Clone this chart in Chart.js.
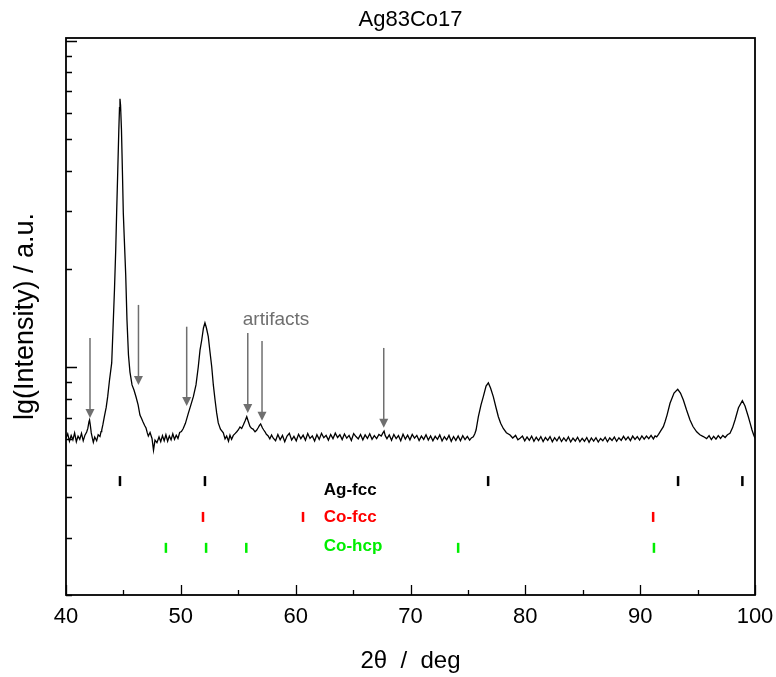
<!DOCTYPE html>
<html>
<head>
<meta charset="utf-8">
<script src="https://cdn.jsdelivr.net/npm/chart.js@4.4.1/dist/chart.umd.min.js"></script>
<style>
  body { margin: 0; background: #fff; }
  canvas { display: block; }
</style>
</head>
<body>
<canvas id="xrd" width="776" height="677"></canvas>
<script>
const twoTheta = [
  40.0, 40.15, 40.3, 40.45, 40.6, 40.75, 40.9, 41.05, 41.2, 41.35, 41.5, 41.65, 41.8, 41.9,
  42.0, 42.05, 42.12, 42.2, 42.3, 42.38, 42.5, 42.67, 42.8, 42.96, 43.05, 43.11, 43.22, 43.34,
  43.5, 43.63, 43.79, 43.98, 44.09, 44.22, 44.33, 44.41, 44.51, 44.6, 44.66, 44.7, 44.75, 44.83,
  44.92, 44.99, 45.08, 45.2, 45.31, 45.44, 45.57, 45.75, 45.92, 46.1, 46.28, 46.44, 46.58, 46.71,
  46.85, 46.97, 47.08, 47.17, 47.32, 47.49, 47.62, 47.75, 47.92, 48.1, 48.25, 48.4, 48.55, 48.7,
  48.85, 49.0, 49.15, 49.3, 49.45, 49.6, 49.75, 49.9, 50.05, 50.21, 50.4, 50.65, 50.85, 51.09,
  51.32, 51.52, 51.67, 51.82, 51.97, 52.1, 52.23, 52.39, 52.54, 52.69, 52.83, 52.98, 53.12, 53.26,
  53.45, 53.7, 53.85, 53.99, 54.15, 54.28, 54.42, 54.57, 54.72, 54.87, 55.0, 55.15, 55.3, 55.44,
  55.6, 55.74, 55.89, 56.02, 56.15, 56.29, 56.46, 56.6, 56.72, 56.85, 56.95, 57.11, 57.22, 57.33,
  57.45, 57.59, 57.75, 57.9, 58.05, 58.25, 58.45, 58.65, 58.85, 59.05, 59.25, 59.45, 59.65, 59.85,
  60.05, 60.25, 60.45, 60.65, 60.85, 61.05, 61.25, 61.45, 61.65, 61.85, 62.05, 62.25, 62.45, 62.65,
  62.85, 63.05, 63.25, 63.45, 63.65, 63.85, 64.05, 64.25, 64.45, 64.65, 64.85, 65.05, 65.25, 65.45,
  65.65, 65.85, 66.05, 66.25, 66.45, 66.65, 66.85, 67.05, 67.25, 67.45, 67.6, 67.7, 67.8, 67.95,
  68.15, 68.35, 68.55, 68.75, 68.95, 69.15, 69.35, 69.55, 69.75, 69.95, 70.15, 70.35, 70.55, 70.75,
  70.95, 71.15, 71.35, 71.55, 71.75, 71.95, 72.15, 72.35, 72.55, 72.75, 72.95, 73.15, 73.35, 73.55,
  73.75, 73.95, 74.15, 74.35, 74.55, 74.75, 74.95, 75.15, 75.3, 75.47, 75.6, 75.71, 75.91, 76.14,
  76.34, 76.58, 76.78, 76.97, 77.21, 77.45, 77.65, 77.85, 78.08, 78.35, 78.67, 78.9, 79.15, 79.35,
  79.54, 79.75, 79.95, 80.15, 80.35, 80.55, 80.75, 80.95, 81.15, 81.35, 81.55, 81.75, 81.95, 82.15,
  82.35, 82.55, 82.75, 82.95, 83.15, 83.35, 83.55, 83.75, 83.95, 84.15, 84.35, 84.55, 84.75, 84.95,
  85.15, 85.35, 85.55, 85.75, 85.95, 86.15, 86.35, 86.55, 86.75, 86.95, 87.15, 87.35, 87.55, 87.75,
  87.95, 88.15, 88.35, 88.55, 88.75, 88.95, 89.15, 89.35, 89.55, 89.75, 89.95, 90.15, 90.35, 90.55,
  90.75, 90.95, 91.15, 91.3, 91.44, 91.6, 91.8, 92.02, 92.18, 92.34, 92.6, 92.95, 93.27, 93.51,
  93.76, 94.04, 94.34, 94.6, 94.92, 95.2, 95.5, 95.79, 96.0, 96.2, 96.4, 96.6, 96.8, 97.0,
  97.2, 97.4, 97.6, 97.82, 98.05, 98.26, 98.56, 98.9, 99.13, 99.42, 99.6, 99.74, 99.88, 100.0
]
const intensity = [
  606, 624, 592, 617, 598, 628, 590, 614, 600, 626, 594, 618, 632, 648,
  680, 688, 662, 628, 604, 588, 610, 594, 620, 612, 634, 641, 668, 704,
  752, 811, 912, 1029, 1299, 1723, 2285, 2968, 4022, 5336, 6235, 6640, 6357, 5336,
  3879, 2968, 2453, 1915, 1394, 1088, 965, 881, 850, 809, 765, 712, 695, 678,
  662, 650, 628, 614, 630, 604, 556, 597, 586, 610, 590, 616, 594, 620,
  592, 614, 598, 624, 600, 618, 604, 630, 634, 648, 672, 721, 760, 811,
  881, 1002, 1127, 1210, 1317, 1365, 1317, 1239, 1112, 1002, 881, 792, 723, 674,
  645, 628, 602, 614, 592, 618, 600, 617, 625, 633, 641, 655, 648, 664,
  684, 704, 678, 657, 649, 645, 633, 640, 650, 662, 669, 650, 641, 633,
  622, 616, 602, 619, 605, 594, 621, 598, 617, 590, 614, 626, 597, 613,
  594, 622, 603, 618, 596, 625, 604, 615, 593, 620, 600, 626, 607, 617,
  597, 621, 603, 627, 608, 620, 599, 623, 605, 617, 595, 625, 612, 602,
  621, 598, 619, 604, 624, 600, 616, 603, 621, 614, 628, 636, 616, 603,
  619, 596, 621, 603, 616, 594, 622, 601, 618, 598, 621, 605, 617, 595,
  614, 600, 620, 597, 615, 594, 613, 600, 619, 593, 611, 598, 617, 592,
  612, 596, 615, 594, 616, 599, 613, 597, 606, 611, 624, 641, 704, 765,
  811, 874, 894, 862, 811, 750, 704, 672, 648, 629, 619, 606, 617, 598,
  605, 614, 594, 610, 596, 614, 592, 609, 595, 612, 591, 608, 596, 612,
  590, 607, 594, 611, 591, 606, 593, 610, 589, 605, 593, 609, 590, 604,
  592, 608, 588, 606, 593, 607, 589, 604, 594, 609, 590, 606, 595, 610,
  592, 607, 596, 613, 598, 611, 595, 614, 600, 612, 597, 615, 601, 614,
  603, 617, 602, 615, 611, 622, 638, 656, 682, 712, 774, 832, 854, 832,
  792, 738, 688, 657, 633, 620, 612, 603, 616, 599, 613, 601, 616, 604,
  617, 608, 620, 626, 652, 688, 750, 788, 759, 704, 668, 641, 620, 605
]

// reference reflection positions (deg)
const agFcc = [44.7, 52.1, 76.76, 93.3, 98.9]
const coFcc = [51.93, 60.64, 91.13]
const coHcp = [48.7, 52.2, 55.7, 74.15, 91.2]

// artifact arrows: position, tail and tip intensity
const arrowAt = [42.09, 46.31, 50.51, 55.83, 57.07, 67.67]
const arrowFrom = [1227, 1550, 1329, 1272, 1202, 1144]
const arrowTo = [698, 881, 759, 723, 684, 651]

const yMajor = [1000, 10000]
const yMinor = [200, 300, 400, 500, 600, 700, 800, 900, 2000, 3000, 4000, 5000, 6000, 7000, 8000, 9000]

const FONT = "'Liberation Sans', Arial, sans-serif"
const rows = [
  { label: "Ag-fcc", pos: agFcc, level: 447, textLevel: 420, color: "#000000" },
  { label: "Co-fcc", pos: coFcc, level: 347, textLevel: 347, color: "#ff0000" },
  { label: "Co-hcp", pos: coHcp, level: 279, textLevel: 283, color: "#00ee00" }
]

const decor = {
  id: "decor",
  afterDatasetsDraw(chart) {
    const { ctx, chartArea: a, scales: { x, y } } = chart
    ctx.save()

    // title, centred over the plot frame
    ctx.fillStyle = "#000"
    ctx.font = "22px " + FONT
    ctx.textAlign = "center"
    ctx.textBaseline = "middle"
    ctx.fillText("Ag83Co17", (a.left + a.right) / 2, 20)

    // inward ticks
    ctx.strokeStyle = "#000"
    ctx.lineWidth = 1.3
    ctx.beginPath()
    for (let v = 40; v <= 100; v += 5) {
      const px = Math.round(x.getPixelForValue(v)) + 0.5
      ctx.moveTo(px, a.bottom)
      ctx.lineTo(px, a.bottom - (v % 10 === 0 ? 10 : 5))
    }
    yMajor.forEach(v => {
      const py = Math.round(y.getPixelForValue(v)) + 0.5
      ctx.moveTo(a.left, py); ctx.lineTo(a.left + 11, py)
    })
    yMinor.forEach(v => {
      const py = Math.round(y.getPixelForValue(v)) + 0.5
      ctx.moveTo(a.left, py); ctx.lineTo(a.left + 6, py)
    })
    ctx.stroke()

    // frame
    ctx.lineWidth = 1.8
    ctx.strokeRect(a.left, a.top, a.right - a.left, a.bottom - a.top)

    // artifact arrows
    ctx.strokeStyle = "#6f6f6f"
    ctx.fillStyle = "#6f6f6f"
    ctx.lineWidth = 1.5
    arrowAt.forEach((v, i) => {
      const px = x.getPixelForValue(v)
      const y0 = y.getPixelForValue(arrowFrom[i])
      const y1 = y.getPixelForValue(arrowTo[i])
      ctx.beginPath()
      ctx.moveTo(px, y0); ctx.lineTo(px, y1 - 8)
      ctx.stroke()
      ctx.beginPath()
      ctx.moveTo(px - 4.5, y1 - 9); ctx.lineTo(px + 4.5, y1 - 9); ctx.lineTo(px, y1)
      ctx.closePath(); ctx.fill()
    })
    ctx.font = "19px " + FONT
    ctx.textBaseline = "alphabetic"
    ctx.fillText("artifacts", x.getPixelForValue(58.29), y.getPixelForValue(1345))

    // phase labels
    ctx.font = "bold 17px " + FONT
    ctx.textAlign = "left"
    ctx.textBaseline = "middle"
    rows.forEach(r => {
      ctx.fillStyle = r.color
      ctx.fillText(r.label, x.getPixelForValue(62.45), y.getPixelForValue(r.textLevel))
    })
    ctx.restore()
  }
}

const datasets = [{
  data: twoTheta.map((t, i) => ({ x: t, y: intensity[i] })),
  borderColor: "#000",
  borderWidth: 1.3,
  pointRadius: 0,
  tension: 0
}]
rows.forEach(r => datasets.push({
  type: "scatter",
  data: r.pos.map(t => ({ x: t, y: r.level })),
  pointStyle: "line",
  rotation: 90,
  radius: 5,
  borderColor: r.color,
  borderWidth: 2.5,
  showLine: false
}))

new Chart(document.getElementById("xrd"), {
  type: "line",
  data: { datasets },
  plugins: [decor],
  options: {
    responsive: false,
    animation: false,
    layout: { padding: { left: 0, right: 21, top: 38, bottom: 1 } },
    plugins: {
      legend: { display: false },
      tooltip: { enabled: false },
      title: { display: false }
    },
    scales: {
      x: {
        type: "linear",
        min: 40,
        max: 100,
        grid: { display: false, drawTicks: false },
        border: { display: false },
        ticks: { stepSize: 10, padding: 9, color: "#000", font: { family: FONT, size: 22 } },
        title: { display: true, text: "2θ  /  deg", color: "#000", font: { family: FONT, size: 24 }, padding: { top: 0, bottom: 0 } },
        afterFit(s) { s.height = 81; s.paddingLeft = 0; s.paddingRight = 0 }
      },
      y: {
        type: "logarithmic",
        min: 200,
        max: 10200,
        grid: { display: false, drawTicks: false },
        border: { display: false },
        ticks: { display: false },
        title: { display: true, text: "lg(Intensity) / a.u.", color: "#000", font: { family: FONT, size: 27 }, padding: { top: 9, bottom: 0 } },
        afterFit(s) { s.width = 66 }
      }
    }
  }
})
</script>
</body>
</html>
